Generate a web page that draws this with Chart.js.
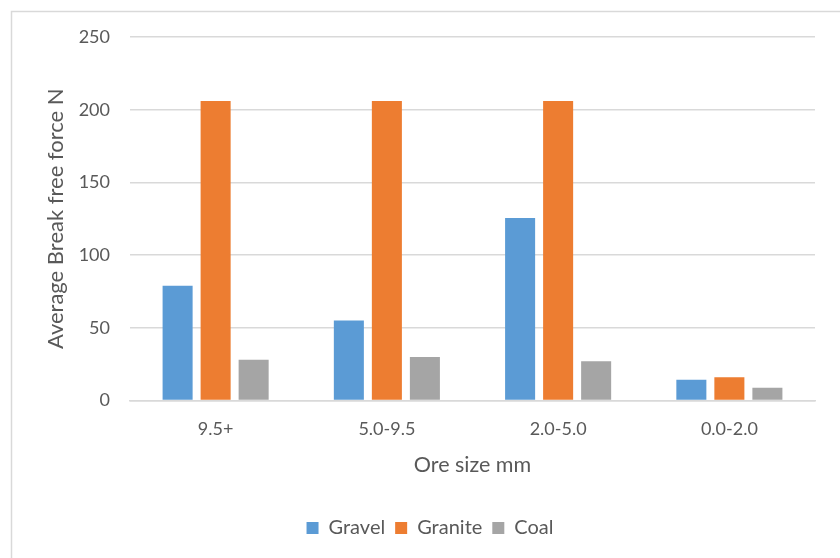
<!DOCTYPE html>
<html>
<head>
<meta charset="utf-8">
<title>Average Break free force by ore size</title>
<script src="https://cdn.jsdelivr.net/npm/chart.js@4/dist/chart.umd.min.js"></script>
<style>
  html, body { margin: 0; padding: 0; background: #ffffff; }
  #wrap { width: 840px; height: 558px; position: relative; }
</style>
</head>
<body>
<div id="wrap"><canvas id="chart" width="840" height="558"></canvas></div>
<script>
// Ore size classes (x axis)
const categories = ['9.5+', '5.0-9.5', '2.0-5.0', '0.0-2.0'];

// Average break free force (N) per material
const gravel  = [79, 55, 125.5, 14.3];
const granite = [206, 206, 206, 16];
const coal    = [28, 30, 27, 8.8];

// Y axis tick values
const yTicks = [0, 50, 100, 150, 200, 250];

const TEXT = '#595959';
const GRID = '#d9d9d9';
const FONT = 'Lato, "Open Sans", sans-serif';

// Light frame around the whole chart
const framePlugin = {
  id: 'frame',
  beforeDraw(chart) {
    const ctx = chart.ctx;
    ctx.save();
    ctx.strokeStyle = '#d9d9d9';
    ctx.lineWidth = 1.5;
    ctx.strokeRect(11.5, 11.5, chart.width + 50, chart.height + 50);
    ctx.restore();
  }
};

// Centre the legend on the whole chart width rather than the padded box
const legendShiftPlugin = {
  id: 'legendShift',
  afterLayout(chart) {
    const lg = chart.legend;
    if (lg) { lg.left += 22.5; lg.right += 22.5; }
  }
};

new Chart(document.getElementById('chart'), {
  type: 'bar',
  data: {
    labels: categories,
    datasets: [
      { label: 'Gravel',  data: gravel,  backgroundColor: '#5b9bd5' },
      { label: 'Granite', data: granite, backgroundColor: '#ed7d31' },
      { label: 'Coal',    data: coal,    backgroundColor: '#a5a5a5' }
    ]
  },
  options: {
    responsive: false,
    animation: false,
    events: [],
    datasets: {
      bar: { categoryPercentage: 0.666, barPercentage: 0.79 }
    },
    layout: { padding: { left: 0, top: 37, right: 25, bottom: 10 } },
    plugins: {
      tooltip: { enabled: false },
      legend: {
        position: 'bottom',
        labels: {
          color: TEXT,
          font: { family: FONT, size: 20 },
          boxWidth: 12,
          boxHeight: 12,
          padding: 10
        }
      }
    },
    scales: {
      x: {
        grid: { display: false, drawTicks: false },
        border: { display: true, color: GRID, width: 1.5 },
        ticks: { color: TEXT, font: { family: FONT, size: 18 }, padding: 18 },
        title: {
          display: true,
          text: 'Ore size mm',
          color: TEXT,
          font: { family: FONT, size: 21.5 },
          padding: { top: 12, bottom: 30 }
        },
        afterFit(scale) { scale.height = 107.5; }
      },
      y: {
        min: 0,
        max: 250,
        afterBuildTicks(scale) { scale.ticks = yTicks.map(v => ({ value: v })); },
        grid: { color: GRID, lineWidth: 1.5, drawTicks: false },
        border: { display: false },
        ticks: { color: TEXT, font: { family: FONT, size: 18 }, padding: 20 },
        title: {
          display: true,
          text: 'Average Break free force N',
          color: TEXT,
          font: { family: FONT, size: 22 },
          padding: { top: 43, bottom: 0 }
        },
        afterFit(scale) { scale.width = 130; }
      }
    }
  },
  plugins: [framePlugin, legendShiftPlugin]
});
</script>
</body>
</html>
